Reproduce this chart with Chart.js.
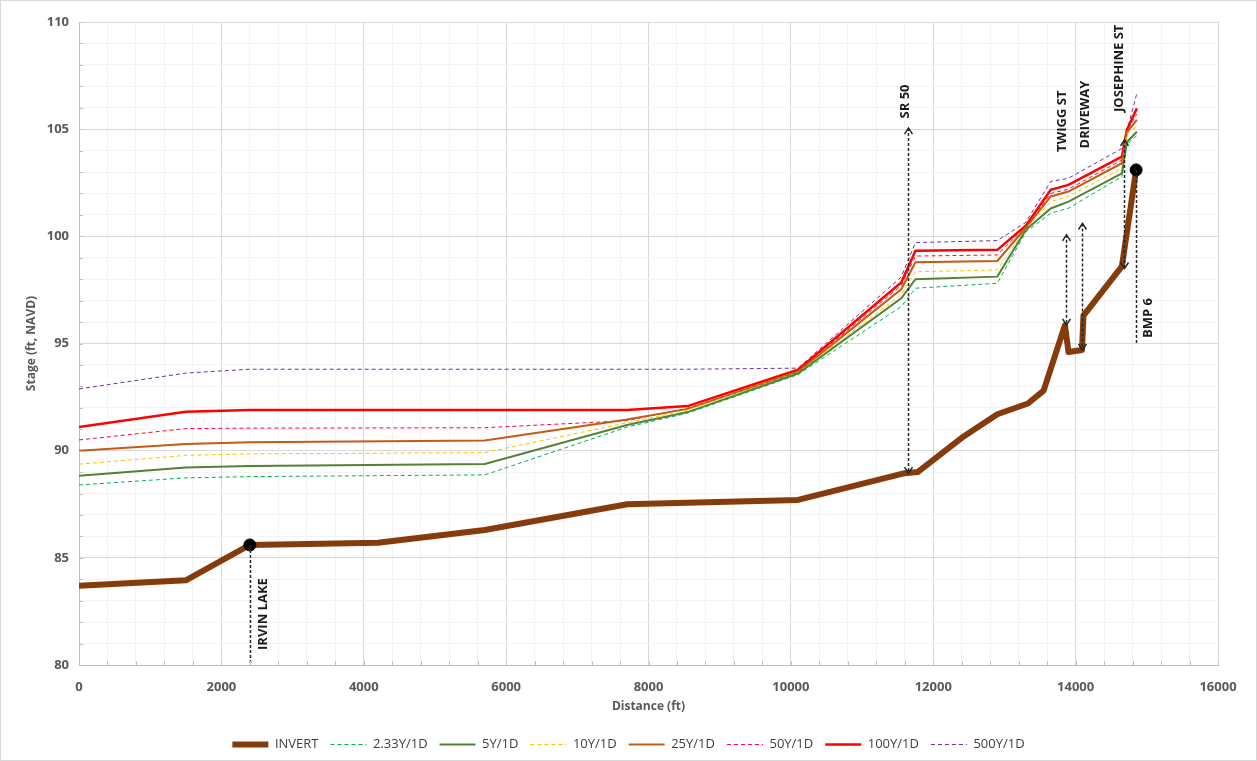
<!DOCTYPE html>
<html>
<head>
<meta charset="utf-8">
<script src="https://cdn.jsdelivr.net/npm/chart.js@4.4.1/dist/chart.umd.min.js"></script>
<style>
  html, body { margin: 0; padding: 0; background: #fff; }
  #wrap { width: 1257px; height: 761px; }
</style>
</head>
<body>
<div id="wrap"><canvas id="chart" width="1257" height="761"></canvas></div>
<script>
// channel invert (ft NAVD) along the distance (ft)
const invertDist  = [0, 1500, 2400, 4200, 5700, 7700, 10100, 11600, 11780, 12400, 12900, 13330, 13550, 13850, 13900, 14090, 14110, 14650, 14850];
const invertStage = [83.7, 83.95, 85.6, 85.7, 86.3, 87.5, 87.7, 88.95, 89.0, 90.6, 91.7, 92.2, 92.8, 95.85, 94.6, 94.7, 96.3, 98.6, 103.1];

// water surface profiles, one stage per station
const wsDist  = [0, 1500, 2400, 5700, 7700, 8550, 10100, 11550, 11750, 12900, 13300, 13650, 13900, 14650, 14720, 14860];
const ws2_33  = [88.4, 88.73, 88.79, 88.87, 91.1, 91.75, 93.55, 96.72, 97.58, 97.81, 100.2, 101.08, 101.31, 102.79, 104.3, 104.7];
const ws5     = [88.83, 89.22, 89.29, 89.38, 91.2, 91.8, 93.6, 97.11, 98.0, 98.12, 100.3, 101.3, 101.62, 102.94, 104.4, 104.88];
const ws10    = [89.37, 89.78, 89.85, 89.91, 91.3, 91.9, 93.65, 97.27, 98.35, 98.43, 100.35, 101.62, 101.86, 103.18, 104.8, 105.12];
const ws25    = [90.0, 90.31, 90.39, 90.47, 91.45, 91.95, 93.68, 97.53, 98.79, 98.85, 100.4, 101.86, 102.09, 103.41, 104.85, 105.43];
const ws50    = [90.5, 91.03, 91.05, 91.07, 91.4, 91.98, 93.7, 97.7, 99.08, 99.13, 100.45, 102.0, 102.2, 103.56, 104.9, 105.7];
const ws100   = [91.1, 91.82, 91.9, 91.9, 91.9, 92.08, 93.78, 97.85, 99.33, 99.37, 100.5, 102.17, 102.4, 103.72, 104.97, 105.97];
const ws500   = [92.88, 93.62, 93.8, 93.8, 93.8, 93.8, 93.85, 98.1, 99.71, 99.8, 100.65, 102.56, 102.71, 104.1, 104.9, 106.67];

// black dots
const dotDist  = [2400, 14850];
const dotStage = [85.6, 103.1];

// structure callouts
const calloutNames  = ['IRVIN LAKE', 'SR 50', 'TWIGG ST', 'DRIVEWAY', 'JOSEPHINE ST', 'BMP 6'];
const calloutDist   = [2400, 11650, 13860, 14085, 14680, 14850];
const calloutTop    = [85.6, 105.05, 100.07, 100.6, 104.5, 103.1];
const calloutBottom = [80, 88.95, 95.87, 94.7, 98.5, 95.0];
const calloutArrows = [false, true, true, true, true, false];
const calloutTextAt = [80.7, 105.5, 103.94, 104.1, 105.8, 95.26];
const calloutShift  = [13, -3, -4, 3, -5, 12];

const pts = (xs, ys) => xs.map((x, i) => ({x: x, y: ys[i]}));

function series(label, ys, color, width, dash) {
    return {
        label: label,
        data: pts(wsDist, ys),
        borderColor: color,
        backgroundColor: color,
        borderWidth: width,
        borderDash: dash,
        pointRadius: 0,
        tension: 0,
        fill: false
    };
}

const shortDash = [4, 3];

// dashed leader lines, arrows and rotated names
const calloutPlugin = {
    id: 'callouts',
    afterDatasetsDraw(chart) {
        const ctx = chart.ctx;
        const xs = chart.scales.x, ys = chart.scales.y;
        ctx.save();
        calloutNames.forEach((name, i) => {
            const px = Math.round(xs.getPixelForValue(calloutDist[i])) + 0.5;
            const top = ys.getPixelForValue(calloutTop[i]);
            const bot = ys.getPixelForValue(calloutBottom[i]);
            ctx.strokeStyle = '#262626';
            ctx.lineWidth = 1.5;
            ctx.setLineDash([3, 2]);
            ctx.beginPath();
            ctx.moveTo(px, top);
            ctx.lineTo(px, bot);
            ctx.stroke();
            if (calloutArrows[i]) {
                ctx.setLineDash([]);
                ctx.beginPath();
                ctx.moveTo(px - 4, top + 6);
                ctx.lineTo(px, top);
                ctx.lineTo(px + 4, top + 6);
                ctx.moveTo(px - 4, bot - 6);
                ctx.lineTo(px, bot);
                ctx.lineTo(px + 4, bot - 6);
                ctx.stroke();
            }
            ctx.save();
            ctx.translate(px + calloutShift[i], ys.getPixelForValue(calloutTextAt[i]));
            ctx.rotate(-Math.PI / 2);
            ctx.fillStyle = '#1a1a1a';
            ctx.font = 'bold 13px "Open Sans", sans-serif';
            ctx.textAlign = 'left';
            ctx.textBaseline = 'middle';
            ctx.fillText(name, 0, 0);
            ctx.restore();
        });
        ctx.restore();
    },
    afterDraw(chart) {
        const ctx = chart.ctx;
        const area = chart.chartArea;
        ctx.save();
        ctx.strokeStyle = '#bfbfbf';
        ctx.lineWidth = 1;
        // small inside tick marks
        chart.scales.x.ticks.forEach(t => {
            const px = Math.round(chart.scales.x.getPixelForValue(t.value)) + 0.5;
            ctx.beginPath();
            ctx.moveTo(px, area.bottom);
            ctx.lineTo(px, area.bottom - 4);
            ctx.stroke();
        });
        chart.scales.y.ticks.forEach(t => {
            const py = Math.round(chart.scales.y.getPixelForValue(t.value)) + 0.5;
            ctx.beginPath();
            ctx.moveTo(area.left, py);
            ctx.lineTo(area.left + 4, py);
            ctx.stroke();
        });
        ctx.strokeStyle = '#d9d9d9';
        ctx.strokeRect(0.5, 0.5, chart.width - 1, chart.height - 1);
        ctx.restore();
    }
};

const tickFont = {family: '"Open Sans", sans-serif', size: 13, weight: 'bold'};

new Chart(document.getElementById('chart'), {
    type: 'line',
    data: {
        datasets: [
            {
                label: 'INVERT',
                data: pts(invertDist, invertStage),
                borderColor: '#843c0c',
                backgroundColor: '#843c0c',
                borderWidth: 6,
                pointRadius: 0,
                tension: 0,
                borderJoinStyle: 'round',
                fill: false
            },
            series('2.33Y/1D', ws2_33, '#00b050', 1, shortDash),
            series('5Y/1D', ws5, '#548235', 2, []),
            series('10Y/1D', ws10, '#ffc000', 1, shortDash),
            series('25Y/1D', ws25, '#c55a11', 2, []),
            series('50Y/1D', ws50, '#ff0040', 1, shortDash),
            series('100Y/1D', ws100, '#ff0000', 2.5, []),
            series('500Y/1D', ws500, '#7030a0', 1, shortDash),
            {
                type: 'scatter',
                label: '',
                data: pts(dotDist, dotStage),
                pointRadius: 6,
                pointBackgroundColor: '#000',
                pointBorderColor: '#000',
                showLine: false,
                order: -1
            }
        ]
    },
    options: {
        responsive: false,
        animation: false,
        layout: {padding: {top: 22, left: 0, right: 0, bottom: 0}},
        plugins: {
            legend: {
                position: 'bottom',
                labels: {
                    usePointStyle: true,
                    pointStyle: 'line',
                    pointStyleWidth: 36,
                    padding: 12,
                    color: '#404040',
                    font: {family: '"Open Sans", sans-serif', size: 13},
                    filter: item => item.text !== '',
                    // keep each series' own dash and width in the legend
                    generateLabels: chart => {
                        const items = Chart.defaults.plugins.legend.labels.generateLabels(chart);
                        items.forEach(item => {
                            const ds = chart.data.datasets[item.datasetIndex];
                            item.lineDash = ds.borderDash || [];
                            item.lineWidth = ds.borderWidth;
                            item.strokeStyle = ds.borderColor;
                        });
                        return items;
                    }
                }
            },
            tooltip: {enabled: false}
        },
        scales: {
            x: {
                type: 'linear',
                min: 0,
                max: 16000,
                ticks: {
                    stepSize: 400,
                    autoSkip: false,
                    maxRotation: 0,
                    padding: 14,
                    color: '#595959',
                    font: tickFont,
                    callback: v => (v % 2000 === 0 ? v : '')
                },
                grid: {
                    drawTicks: false,
                    color: c => (c.tick && c.tick.value % 2000 === 0 ? '#d9d9d9' : '#f3f3f3')
                },
                border: {color: '#bfbfbf'},
                title: {
                    display: true,
                    text: 'Distance (ft)',
                    color: '#595959',
                    font: {family: '"Open Sans", sans-serif', size: 12, weight: 'bold'},
                    padding: {top: 0, bottom: 12}
                },
                afterFit: s => { s.height = 61; }
            },
            y: {
                min: 80,
                max: 110,
                ticks: {
                    stepSize: 1,
                    autoSkip: false,
                    padding: 10,
                    color: '#595959',
                    font: tickFont,
                    callback: v => (v % 5 === 0 ? v : '')
                },
                grid: {
                    drawTicks: false,
                    color: c => (c.tick && c.tick.value % 5 === 0 ? '#d9d9d9' : '#f3f3f3')
                },
                border: {color: '#bfbfbf'},
                title: {
                    display: true,
                    text: 'Stage (ft, NAVD)',
                    color: '#595959',
                    font: {family: '"Open Sans", sans-serif', size: 12, weight: 'bold'},
                    padding: {top: 24, bottom: 0}
                },
                afterFit: s => { s.width = 79; }
            },
            yRight: {
                position: 'right',
                min: 80,
                max: 110,
                grid: {display: false},
                ticks: {display: false},
                border: {display: false},
                afterFit: s => { s.width = 39; }
            }
        }
    },
    plugins: [calloutPlugin]
});
</script>
</body>
</html>
